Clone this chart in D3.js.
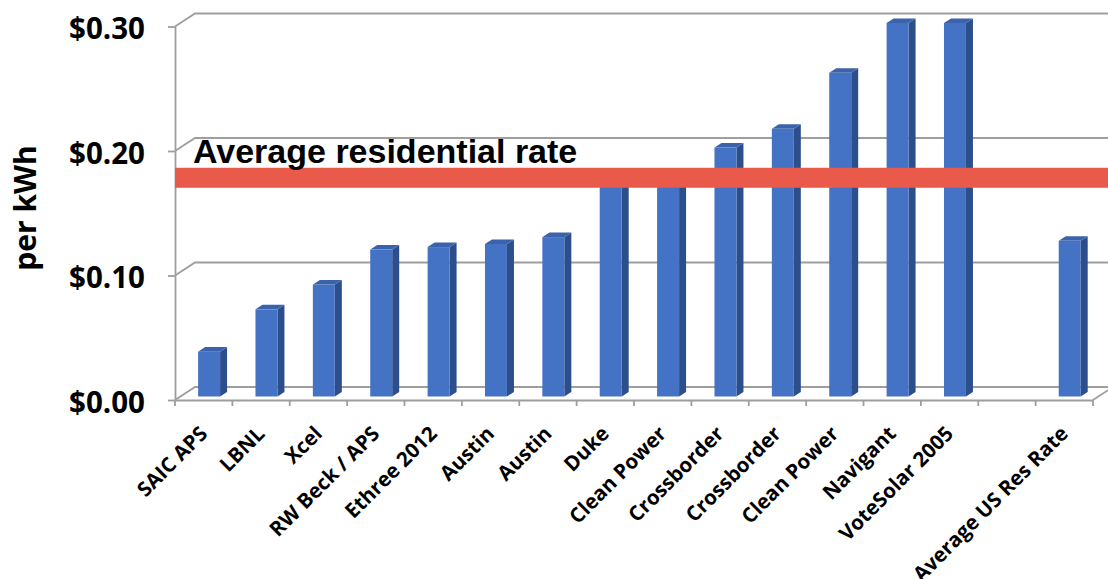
<!DOCTYPE html>
<html>
<head>
<meta charset="utf-8">
<script src="https://cdn.jsdelivr.net/npm/d3@7"></script>
<style>
  html, body { margin: 0; padding: 0; background: #fff; }
  svg { display: block; }
</style>
</head>
<body>
<svg id="chart" width="1108" height="579"></svg>
<script>
// ---- data ----
const categories = ["SAIC APS", "LBNL", "Xcel", "RW Beck / APS", "Ethree 2012", "Austin", "Austin",
  "Duke", "Clean Power", "Crossborder", "Crossborder", "Clean Power", "Navigant", "VoteSolar 2005",
  "", "Average US Res Rate"];
const costPerKWh = [0.036, 0.070, 0.090, 0.118, 0.120, 0.1225, 0.128,
  0.175, 0.175, 0.200, 0.215, 0.260, 0.300, 0.300,
  null, 0.125];
const yTicks = [0, 0.10, 0.20, 0.30];
const avgResidentialRate = 0.1785;
const avgLabel = "Average residential rate";
const yAxisTitle = "per kWh";

// ---- layout ----
const svg = d3.select("#chart");
const left = 175, right = 1093, floorY = 400, topY = 26.5;
const depth = { dx: 20, dy: -13 };         // 3D wall depth
const barFront = 0.27, barDepth = 0.35;      // bar plane position within depth

const idx = categories.map((d, i) => i);
const pad = 0.617;
const x = d3.scaleBand().domain(idx).range([left, right]).paddingInner(pad).paddingOuter(pad / 2);
const y = d3.scaleLinear().domain([0, 0.30]).range([floorY, topY]);

const gridColor = "#9e9e9e";

// ---- walls / gridlines ----
const grid = svg.append("g").attr("fill", "none").attr("stroke", gridColor).attr("stroke-width", 1.8);
yTicks.forEach(v => {
  const yf = y(v);
  grid.append("polyline").attr("points", [
    [left, yf], [left + depth.dx, yf + depth.dy], [right + depth.dx, yf + depth.dy]
  ].join(" "));
});
// floor right edge
grid.append("line").attr("x1", right).attr("y1", y(0)).attr("x2", right + depth.dx).attr("y2", y(0) + depth.dy);

// ---- bars ----
const bx0 = depth.dx * barFront, by0 = depth.dy * barFront;
const ddx = depth.dx * barDepth, ddy = depth.dy * barDepth;
const bw = x.bandwidth();
const bars = svg.append("g");
idx.forEach(i => {
  const v = costPerKWh[i];
  if (v == null) return;
  const xl = x(i) + bx0, xr = xl + bw;
  const yt = y(v) + by0, yb = y(0) + by0;
  const g = bars.append("g");
  g.append("polygon").attr("fill", "#2c4f8c")
    .attr("points", [[xr, yt], [xr + ddx, yt + ddy], [xr + ddx, yb + ddy], [xr, yb]].join(" "));
  g.append("polygon").attr("fill", "#3b63ab")
    .attr("points", [[xl, yt], [xl + ddx, yt + ddy], [xr + ddx, yt + ddy], [xr, yt]].join(" "));
  g.append("rect").attr("x", xl).attr("y", yt).attr("width", bw).attr("height", yb - yt)
    .attr("fill", "#4472c4");
});

// ---- y axis ----
const yAxis = d3.axisLeft(y).tickValues(yTicks).tickFormat(d => "$" + d3.format(".2f")(d))
  .tickSize(7).tickSizeOuter(0).tickPadding(23);
const gy = svg.append("g").attr("transform", `translate(${left},0)`).call(yAxis);
gy.selectAll("path, line").attr("stroke", gridColor).attr("stroke-width", 1.8);
gy.selectAll("text").attr("font-family", "'Open Sans', sans-serif").attr("font-weight", 700)
  .attr("font-size", 29.5).attr("fill", "#000").attr("dy", "0.42em");

// ---- x axis ----
const xAxis = d3.axisBottom(x).tickFormat(i => categories[i]).tickSize(0).tickSizeOuter(0);
const gx = svg.append("g").attr("transform", `translate(0,${floorY})`).call(xAxis);
gx.select("path").attr("stroke", gridColor).attr("stroke-width", 1.8);
gx.selectAll(".tick text")
  .attr("font-family", "'Open Sans', sans-serif").attr("font-weight", 700).attr("font-size", 20.5)
  .attr("fill", "#000").attr("text-anchor", "end").attr("dy", null).attr("y", null)
  .attr("transform", "translate(5,35) rotate(-45)");
// category boundary ticks
const step = x.step();
d3.range(categories.length + 1).forEach(k => {
  const xb = left + k * step;
  gx.append("line").attr("x1", xb).attr("x2", xb).attr("y1", 0).attr("y2", 6)
    .attr("stroke", gridColor).attr("stroke-width", 1.8);
});

// ---- y title ----
svg.append("text").attr("transform", "translate(36,208) rotate(-90)")
  .attr("text-anchor", "middle").attr("font-family", "'Open Sans', sans-serif")
  .attr("font-weight", 700).attr("font-size", 30).attr("fill", "#000").text(yAxisTitle);

// ---- average residential rate annotation ----
svg.append("rect").attr("x", left).attr("y", y(avgResidentialRate) - 10)
  .attr("width", 1108 - left).attr("height", 20).attr("fill", "#ea5a4b");
svg.append("text").attr("x", 193).attr("y", 163)
  .attr("font-family", "'Liberation Sans', Arial, sans-serif").attr("font-weight", 700)
  .attr("font-size", 34).attr("fill", "#000").text(avgLabel);
</script>
</body>
</html>
